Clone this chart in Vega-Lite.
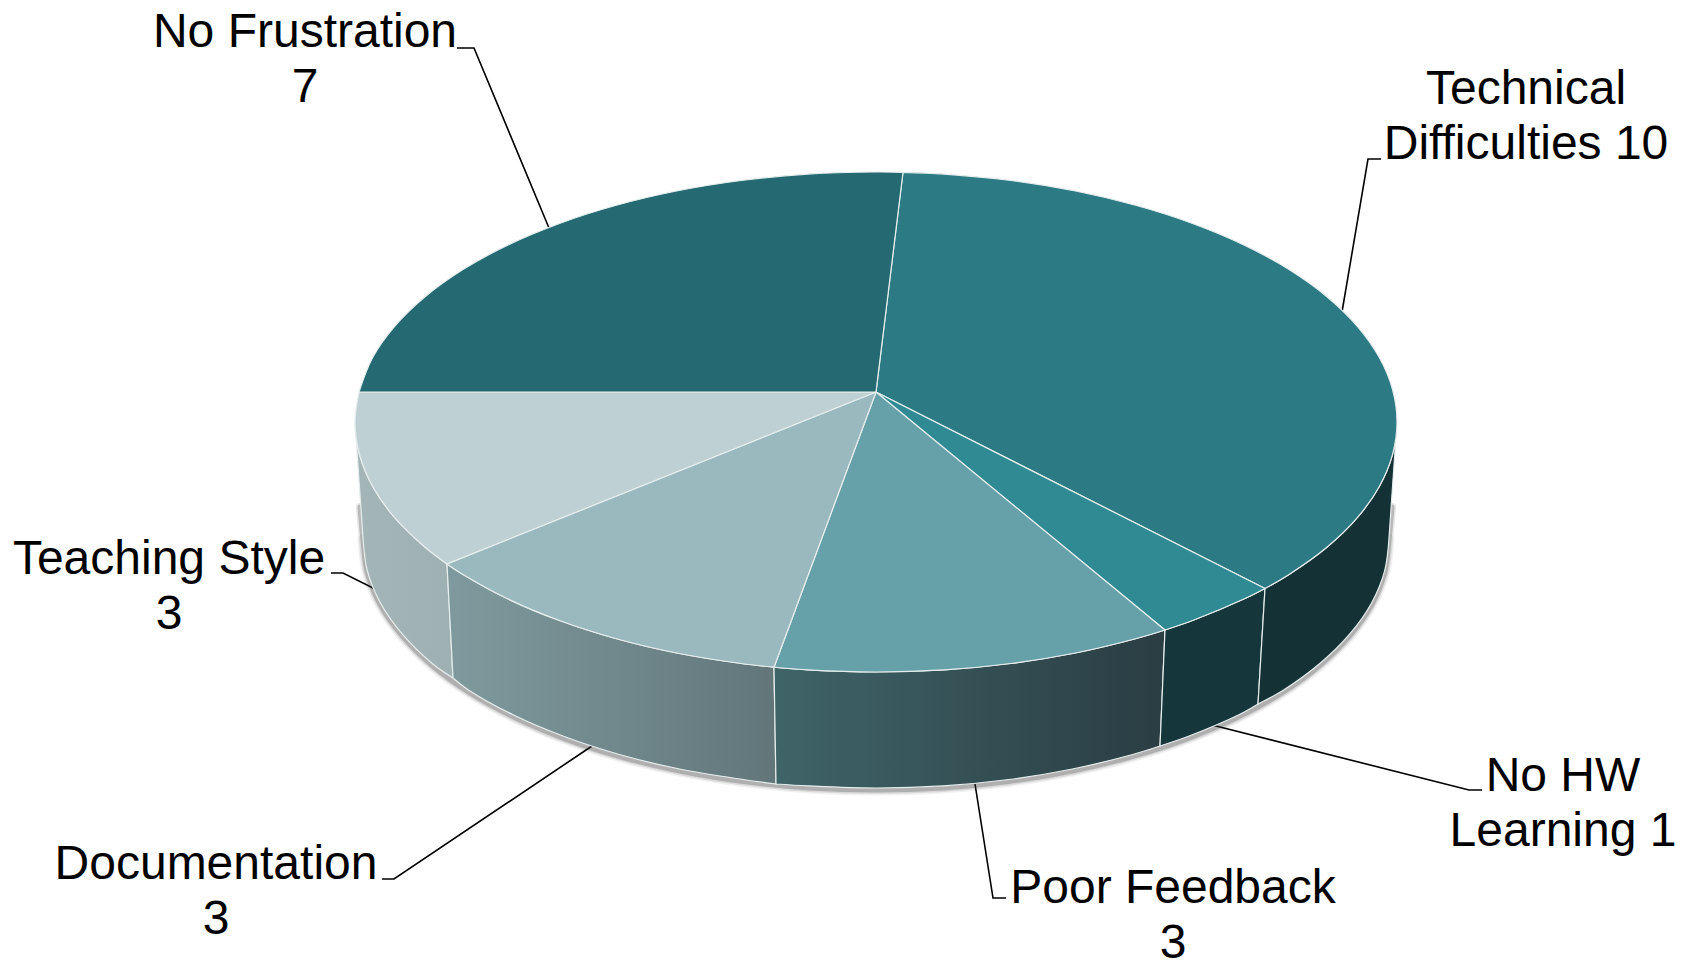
{"$schema":"https://vega.github.io/schema/vega-lite/v6.json","width":1685,"height":962,"autosize":{"type":"none"},"padding":0,"background":"white","config":{"view":{"stroke":null}},
"datasets":{
"rim":[{"i":-1,"x":360,"y":505},{"i":0,"x":363,"y":538},{"i":1,"x":367.3,"y":570.6},{"i":2,"x":380.3,"y":602.7},{"i":3,"x":402,"y":633.7},{"i":4,"x":431.6,"y":663},{"i":5,"x":468.8,"y":690.2},{"i":6,"x":513.1,"y":714.8},{"i":7,"x":563.6,"y":736.3},{"i":8,"x":619.4,"y":754.5},{"i":9,"x":679.6,"y":769},{"i":10,"x":743.2,"y":779.5},{"i":11,"x":809,"y":785.9},{"i":12,"x":876,"y":788},{"i":13,"x":943,"y":785.9},{"i":14,"x":1008.8,"y":779.5},{"i":15,"x":1072.4,"y":769},{"i":16,"x":1132.6,"y":754.5},{"i":17,"x":1188.4,"y":736.3},{"i":18,"x":1238.9,"y":714.8},{"i":19,"x":1283.2,"y":690.2},{"i":20,"x":1320.4,"y":663},{"i":21,"x":1350,"y":633.7},{"i":22,"x":1371.7,"y":602.7},{"i":23,"x":1384.7,"y":570.6},{"i":24,"x":1389,"y":538},{"i":25,"x":1392,"y":505}],
"wall":[
{"slice":"Teaching Style","i":0,"x":355,"y":422},{"slice":"Teaching Style","i":1,"x":359.5,"y":454.6},{"slice":"Teaching Style","i":2,"x":372.8,"y":486.7},{"slice":"Teaching Style","i":3,"x":394.7,"y":517.7},{"slice":"Teaching Style","i":4,"x":424.8,"y":547},{"slice":"Teaching Style","i":5,"x":447,"y":563.9},{"slice":"Teaching Style","i":5.5,"x":447,"y":563.9},{"slice":"Teaching Style","i":6,"x":453,"y":678},{"slice":"Teaching Style","i":6.5,"x":453,"y":678},{"slice":"Teaching Style","i":7,"x":431.6,"y":663},{"slice":"Teaching Style","i":8,"x":402,"y":633.7},{"slice":"Teaching Style","i":9,"x":380.3,"y":602.7},{"slice":"Teaching Style","i":10,"x":367.3,"y":570.6},{"slice":"Teaching Style","i":11,"x":363,"y":538},{"slice":"Teaching Style","i":11.5,"x":363,"y":538},{"slice":"Teaching Style","i":12,"x":355,"y":422},
{"slice":"Documentation","i":0,"x":447,"y":563.9},{"slice":"Documentation","i":1,"x":462.6,"y":574.2},{"slice":"Documentation","i":2,"x":507.6,"y":598.8},{"slice":"Documentation","i":3,"x":558.8,"y":620.3},{"slice":"Documentation","i":4,"x":615.5,"y":638.5},{"slice":"Documentation","i":5,"x":676.6,"y":653},{"slice":"Documentation","i":6,"x":741.2,"y":663.5},{"slice":"Documentation","i":7,"x":774,"y":667.2},{"slice":"Documentation","i":7.5,"x":774,"y":667.2},{"slice":"Documentation","i":8,"x":776,"y":784},{"slice":"Documentation","i":8.5,"x":776,"y":784},{"slice":"Documentation","i":9,"x":743.2,"y":779.5},{"slice":"Documentation","i":10,"x":679.6,"y":769},{"slice":"Documentation","i":11,"x":619.4,"y":754.5},{"slice":"Documentation","i":12,"x":563.6,"y":736.3},{"slice":"Documentation","i":13,"x":513.1,"y":714.8},{"slice":"Documentation","i":14,"x":468.8,"y":690.2},{"slice":"Documentation","i":15,"x":453,"y":678},{"slice":"Documentation","i":15.5,"x":453,"y":678},{"slice":"Documentation","i":16,"x":447,"y":563.9},
{"slice":"Poor Feedback","i":0,"x":774,"y":667.2},{"slice":"Poor Feedback","i":1,"x":808,"y":669.9},{"slice":"Poor Feedback","i":2,"x":876,"y":672},{"slice":"Poor Feedback","i":3,"x":944,"y":669.9},{"slice":"Poor Feedback","i":4,"x":1010.8,"y":663.5},{"slice":"Poor Feedback","i":5,"x":1075.4,"y":653},{"slice":"Poor Feedback","i":6,"x":1136.5,"y":638.5},{"slice":"Poor Feedback","i":7,"x":1165,"y":630},{"slice":"Poor Feedback","i":7.5,"x":1165,"y":630},{"slice":"Poor Feedback","i":8,"x":1160,"y":746},{"slice":"Poor Feedback","i":8.5,"x":1160,"y":746},{"slice":"Poor Feedback","i":9,"x":1132.6,"y":754.5},{"slice":"Poor Feedback","i":10,"x":1072.4,"y":769},{"slice":"Poor Feedback","i":11,"x":1008.8,"y":779.5},{"slice":"Poor Feedback","i":12,"x":943,"y":785.9},{"slice":"Poor Feedback","i":13,"x":876,"y":788},{"slice":"Poor Feedback","i":14,"x":809,"y":785.9},{"slice":"Poor Feedback","i":15,"x":776,"y":784},{"slice":"Poor Feedback","i":15.5,"x":776,"y":784},{"slice":"Poor Feedback","i":16,"x":774,"y":667.2},
{"slice":"No HW Learning","i":0,"x":1165,"y":630},{"slice":"No HW Learning","i":1,"x":1193.2,"y":620.3},{"slice":"No HW Learning","i":2,"x":1244.4,"y":598.8},{"slice":"No HW Learning","i":3,"x":1265,"y":588.5},{"slice":"No HW Learning","i":3.5,"x":1265,"y":588.5},{"slice":"No HW Learning","i":4,"x":1258,"y":704},{"slice":"No HW Learning","i":4.5,"x":1258,"y":704},{"slice":"No HW Learning","i":5,"x":1238.9,"y":714.8},{"slice":"No HW Learning","i":6,"x":1188.4,"y":736.3},{"slice":"No HW Learning","i":7,"x":1160,"y":746},{"slice":"No HW Learning","i":7.5,"x":1160,"y":746},{"slice":"No HW Learning","i":8,"x":1165,"y":630},
{"slice":"Technical Difficulties","i":0,"x":1265,"y":588.5},{"slice":"Technical Difficulties","i":1,"x":1289.4,"y":574.2},{"slice":"Technical Difficulties","i":2,"x":1327.2,"y":547},{"slice":"Technical Difficulties","i":3,"x":1357.3,"y":517.7},{"slice":"Technical Difficulties","i":4,"x":1379.2,"y":486.7},{"slice":"Technical Difficulties","i":5,"x":1392.5,"y":454.6},{"slice":"Technical Difficulties","i":6,"x":1397,"y":422},{"slice":"Technical Difficulties","i":6.5,"x":1397,"y":422},{"slice":"Technical Difficulties","i":7,"x":1389,"y":538},{"slice":"Technical Difficulties","i":7.5,"x":1389,"y":538},{"slice":"Technical Difficulties","i":8,"x":1384.7,"y":570.6},{"slice":"Technical Difficulties","i":9,"x":1371.7,"y":602.7},{"slice":"Technical Difficulties","i":10,"x":1350,"y":633.7},{"slice":"Technical Difficulties","i":11,"x":1320.4,"y":663},{"slice":"Technical Difficulties","i":12,"x":1283.2,"y":690.2},{"slice":"Technical Difficulties","i":13,"x":1258,"y":704},{"slice":"Technical Difficulties","i":13.5,"x":1258,"y":704},{"slice":"Technical Difficulties","i":14,"x":1265,"y":588.5}],
"top":[
{"slice":"Technical Difficulties","i":0,"x":876,"y":392},{"slice":"Technical Difficulties","i":1,"x":903,"y":172.3},{"slice":"Technical Difficulties","i":1.5,"x":903,"y":172.3},{"slice":"Technical Difficulties","i":2,"x":944,"y":174.1},{"slice":"Technical Difficulties","i":3,"x":1010.8,"y":180.5},{"slice":"Technical Difficulties","i":4,"x":1075.4,"y":191},{"slice":"Technical Difficulties","i":5,"x":1136.5,"y":205.5},{"slice":"Technical Difficulties","i":6,"x":1193.2,"y":223.7},{"slice":"Technical Difficulties","i":7,"x":1244.4,"y":245.2},{"slice":"Technical Difficulties","i":8,"x":1289.4,"y":269.8},{"slice":"Technical Difficulties","i":9,"x":1327.2,"y":297},{"slice":"Technical Difficulties","i":10,"x":1357.3,"y":326.3},{"slice":"Technical Difficulties","i":11,"x":1379.2,"y":357.3},{"slice":"Technical Difficulties","i":12,"x":1392.5,"y":389.4},{"slice":"Technical Difficulties","i":13,"x":1397,"y":422},{"slice":"Technical Difficulties","i":14,"x":1392.5,"y":454.6},{"slice":"Technical Difficulties","i":15,"x":1379.2,"y":486.7},{"slice":"Technical Difficulties","i":16,"x":1357.3,"y":517.7},{"slice":"Technical Difficulties","i":17,"x":1327.2,"y":547},{"slice":"Technical Difficulties","i":18,"x":1289.4,"y":574.2},{"slice":"Technical Difficulties","i":19,"x":1265,"y":588.5},{"slice":"Technical Difficulties","i":19.5,"x":1265,"y":588.5},{"slice":"Technical Difficulties","i":20,"x":876,"y":392},
{"slice":"No HW Learning","i":0,"x":876,"y":392},{"slice":"No HW Learning","i":1,"x":1265,"y":588.5},{"slice":"No HW Learning","i":1.5,"x":1265,"y":588.5},{"slice":"No HW Learning","i":2,"x":1244.4,"y":598.8},{"slice":"No HW Learning","i":3,"x":1193.2,"y":620.3},{"slice":"No HW Learning","i":4,"x":1165,"y":630},{"slice":"No HW Learning","i":4.5,"x":1165,"y":630},{"slice":"No HW Learning","i":5,"x":876,"y":392},
{"slice":"Poor Feedback","i":0,"x":876,"y":392},{"slice":"Poor Feedback","i":1,"x":1165,"y":630},{"slice":"Poor Feedback","i":1.5,"x":1165,"y":630},{"slice":"Poor Feedback","i":2,"x":1136.5,"y":638.5},{"slice":"Poor Feedback","i":3,"x":1075.4,"y":653},{"slice":"Poor Feedback","i":4,"x":1010.8,"y":663.5},{"slice":"Poor Feedback","i":5,"x":944,"y":669.9},{"slice":"Poor Feedback","i":6,"x":876,"y":672},{"slice":"Poor Feedback","i":7,"x":808,"y":669.9},{"slice":"Poor Feedback","i":8,"x":774,"y":667.2},{"slice":"Poor Feedback","i":8.5,"x":774,"y":667.2},{"slice":"Poor Feedback","i":9,"x":876,"y":392},
{"slice":"Documentation","i":0,"x":876,"y":392},{"slice":"Documentation","i":1,"x":774,"y":667.2},{"slice":"Documentation","i":1.5,"x":774,"y":667.2},{"slice":"Documentation","i":2,"x":741.2,"y":663.5},{"slice":"Documentation","i":3,"x":676.6,"y":653},{"slice":"Documentation","i":4,"x":615.5,"y":638.5},{"slice":"Documentation","i":5,"x":558.8,"y":620.3},{"slice":"Documentation","i":6,"x":507.6,"y":598.8},{"slice":"Documentation","i":7,"x":462.6,"y":574.2},{"slice":"Documentation","i":8,"x":447,"y":563.9},{"slice":"Documentation","i":8.5,"x":447,"y":563.9},{"slice":"Documentation","i":9,"x":876,"y":392},
{"slice":"Teaching Style","i":0,"x":876,"y":392},{"slice":"Teaching Style","i":1,"x":447,"y":563.9},{"slice":"Teaching Style","i":1.5,"x":447,"y":563.9},{"slice":"Teaching Style","i":2,"x":424.8,"y":547},{"slice":"Teaching Style","i":3,"x":394.7,"y":517.7},{"slice":"Teaching Style","i":4,"x":372.8,"y":486.7},{"slice":"Teaching Style","i":5,"x":359.5,"y":454.6},{"slice":"Teaching Style","i":6,"x":355,"y":422},{"slice":"Teaching Style","i":7,"x":359,"y":392},{"slice":"Teaching Style","i":7.5,"x":359,"y":392},{"slice":"Teaching Style","i":8,"x":876,"y":392},
{"slice":"No Frustration","i":0,"x":876,"y":392},{"slice":"No Frustration","i":1,"x":359,"y":392},{"slice":"No Frustration","i":1.5,"x":359,"y":392},{"slice":"No Frustration","i":2,"x":372.8,"y":357.3},{"slice":"No Frustration","i":3,"x":394.7,"y":326.3},{"slice":"No Frustration","i":4,"x":424.8,"y":297},{"slice":"No Frustration","i":5,"x":462.6,"y":269.8},{"slice":"No Frustration","i":6,"x":507.6,"y":245.2},{"slice":"No Frustration","i":7,"x":558.8,"y":223.7},{"slice":"No Frustration","i":8,"x":615.5,"y":205.5},{"slice":"No Frustration","i":9,"x":676.6,"y":191},{"slice":"No Frustration","i":10,"x":741.2,"y":180.5},{"slice":"No Frustration","i":11,"x":808,"y":174.1},{"slice":"No Frustration","i":12,"x":876,"y":172},{"slice":"No Frustration","i":13,"x":903,"y":172.3},{"slice":"No Frustration","i":13.5,"x":903,"y":172.3},{"slice":"No Frustration","i":14,"x":876,"y":392}],
"leaders":[
{"slice":"No Frustration","i":0,"x":457,"y":48},{"slice":"No Frustration","i":1,"x":474,"y":48},{"slice":"No Frustration","i":2,"x":549,"y":228},
{"slice":"Technical Difficulties","i":0,"x":1381,"y":159},{"slice":"Technical Difficulties","i":1,"x":1368,"y":159},{"slice":"Technical Difficulties","i":2,"x":1342,"y":312},
{"slice":"Teaching Style","i":0,"x":331,"y":573},{"slice":"Teaching Style","i":1,"x":343,"y":573},{"slice":"Teaching Style","i":2,"x":377,"y":590},
{"slice":"Documentation","i":0,"x":382,"y":879},{"slice":"Documentation","i":1,"x":394,"y":879},{"slice":"Documentation","i":2,"x":592,"y":746},
{"slice":"Poor Feedback","i":0,"x":1006,"y":898},{"slice":"Poor Feedback","i":1,"x":993,"y":898},{"slice":"Poor Feedback","i":2,"x":975,"y":784},
{"slice":"No HW Learning","i":0,"x":1482,"y":790},{"slice":"No HW Learning","i":1,"x":1469,"y":790},{"slice":"No HW Learning","i":2,"x":1212,"y":725}],
"labels":[
{"text":"No Frustration\n7","x":305,"y":46.5},
{"text":"Technical\nDifficulties 10","x":1526,"y":104},
{"text":"Teaching Style\n3","x":169,"y":574},
{"text":"Documentation\n3","x":216,"y":879},
{"text":"Poor Feedback\n3","x":1173,"y":903},
{"text":"No HW\nLearning 1","x":1563,"y":791}]
},
"encoding":{
"x":{"field":"x","type":"quantitative","axis":null,"scale":{"domain":[0,1685],"nice":false,"zero":false}},
"y":{"field":"y","type":"quantitative","axis":null,"scale":{"domain":[962,0],"nice":false,"zero":false}}
},
"layer":[
{"data":{"name":"leaders"},"mark":{"type":"line","stroke":"#000000","strokeWidth":1.6},"encoding":{"detail":{"field":"slice"},"order":{"field":"i","type":"quantitative"}}},
{"data":{"name":"rim"},"transform":[{"filter":"datum.i>=0 && datum.i<=24"}],"mark":{"type":"line","interpolate":"catmull-rom","stroke":"#333333","strokeCap":"round","strokeWidth":11,"opacity":0.07,"yOffset":2},"encoding":{"order":{"field":"i","type":"quantitative"}}},
{"data":{"name":"rim"},"mark":{"type":"line","interpolate":"catmull-rom","stroke":"#333333","strokeCap":"round","strokeWidth":8,"opacity":0.12,"yOffset":2},"encoding":{"order":{"field":"i","type":"quantitative"}}},
{"data":{"name":"rim"},"mark":{"type":"line","interpolate":"catmull-rom","stroke":"#333333","strokeCap":"round","strokeWidth":5,"opacity":0.25,"yOffset":2},"encoding":{"order":{"field":"i","type":"quantitative"}}},
{"data":{"name":"wall"},"transform":[{"filter":"datum.slice==='Teaching Style'"}],"mark":{"type":"line","interpolate":"catmull-rom","strokeWidth":1.2,"stroke":"#e6eded","fill":{"gradient":"linear","x1":0,"y1":0,"x2":1,"y2":0,"stops":[{"offset":0,"color":"#a4b5b8"},{"offset":1,"color":"#9fb0b3"}]}},"encoding":{"order":{"field":"i","type":"quantitative"}}},
{"data":{"name":"wall"},"transform":[{"filter":"datum.slice==='Documentation'"}],"mark":{"type":"line","interpolate":"catmull-rom","strokeWidth":1.2,"stroke":"#e6eded","fill":{"gradient":"linear","x1":0,"y1":0,"x2":1,"y2":0,"stops":[{"offset":0,"color":"#7f9a9e"},{"offset":1,"color":"#62767a"}]}},"encoding":{"order":{"field":"i","type":"quantitative"}}},
{"data":{"name":"wall"},"transform":[{"filter":"datum.slice==='Poor Feedback'"}],"mark":{"type":"line","interpolate":"catmull-rom","strokeWidth":1.2,"stroke":"#e6eded","fill":{"gradient":"linear","x1":0,"y1":0,"x2":1,"y2":0,"stops":[{"offset":0,"color":"#3f6468"},{"offset":1,"color":"#2a3d43"}]}},"encoding":{"order":{"field":"i","type":"quantitative"}}},
{"data":{"name":"wall"},"transform":[{"filter":"datum.slice==='No HW Learning'"}],"mark":{"type":"line","interpolate":"catmull-rom","strokeWidth":1.2,"stroke":"#e6eded","fill":"#15363b"},"encoding":{"order":{"field":"i","type":"quantitative"}}},
{"data":{"name":"wall"},"transform":[{"filter":"datum.slice==='Technical Difficulties'"}],"mark":{"type":"line","interpolate":"catmull-rom","strokeWidth":1.2,"stroke":"#e6eded","fill":"#143236"},"encoding":{"order":{"field":"i","type":"quantitative"}}},
{"data":{"name":"top"},"mark":{"type":"line","interpolate":"catmull-rom","strokeWidth":1.2,"stroke":"#e6eded","strokeJoin":"round"},"encoding":{"detail":{"field":"slice"},"order":{"field":"i","type":"quantitative"},"fill":{"field":"slice","type":"nominal","legend":null,"scale":{"domain":["Technical Difficulties","No HW Learning","Poor Feedback","Documentation","Teaching Style","No Frustration"],"range":["#2c7a83","#308a94","#66a1aa","#9ab9be","#bed0d4","#256a72"]}}}},
{"data":{"name":"labels"},"mark":{"type":"text","font":"Liberation Sans","fontSize":48,"lineHeight":55,"lineBreak":"\n","align":"center","baseline":"alphabetic","color":"#000000"},"encoding":{"text":{"field":"text","type":"nominal"}}}
]}
